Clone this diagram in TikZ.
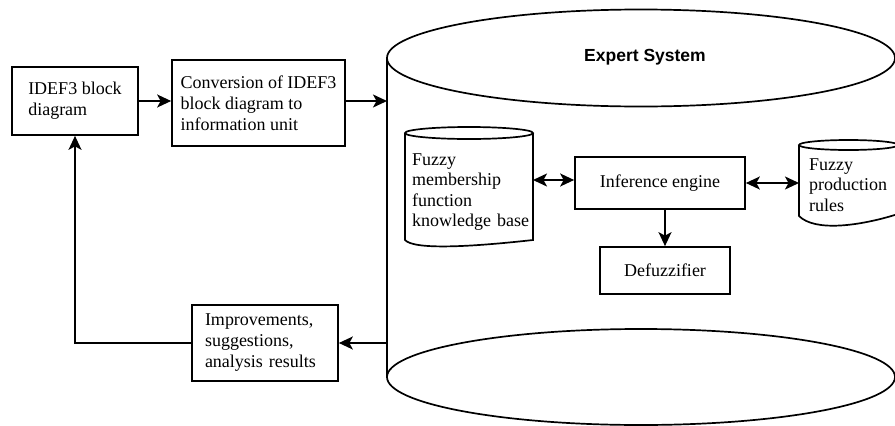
\documentclass[tikz,border=0pt]{standalone}
\usepackage{fontspec}
\setmainfont{Liberation Serif}
\setsansfont{Liberation Sans}
\usetikzlibrary{arrows.meta}
\begin{document}
\begin{tikzpicture}[x=1pt,y=-1pt,
  box/.style={draw, line width=1.7pt, align=left, font=\fontsize{18}{21}\selectfont, inner ysep=0pt},
  txt/.style={align=left, font=\fontsize{18}{20.5}\selectfont, inner sep=0pt},
  tip/.tip={Stealth[length=14pt,width=13pt,inset=3.5pt]},
  arr/.style={line width=1.7pt, -tip},
  darr/.style={line width=1.7pt, tip-tip},
  shp/.style={line width=1.7pt},
]
\useasboundingbox (0,0) rectangle (895,426);

% big cylinder
\coordinate (esL) at (387,58);
\draw[shp] (641,58) ellipse [x radius=254pt, y radius=48.5pt];
\draw[shp] (641,377) ellipse [x radius=254pt, y radius=48pt];
\draw[shp] (esL) -- (387,377);
\node[font=\sffamily\bfseries\fontsize{17.5}{20}\selectfont] (es) at (645,57) {Expert System};

% boxes
\node[box, minimum width=126pt, minimum height=68pt] (idef) at (75,101) {IDEF3 block\\diagram};
\node[box, minimum width=173pt, minimum height=86pt] (conv) at (258.5,103) {Conversion of IDEF3\\block diagram to\\information unit};
\node[box, minimum width=146pt, minimum height=76pt, text width=120pt, inner xsep=13pt] (imp) at (265,343) {Improvements,\\suggestions,\\analysis results};
\node[box, align=center, minimum width=170pt, minimum height=52pt] (inf) at (660,183) {Inference engine};
\node[box, align=center, minimum width=130pt, minimum height=47pt] (defz) at (665,270.5) {Defuzzifier};

% membership cylinder
\draw[shp] (405,133) -- (405,240) .. controls (414,250) and (470,247) .. (533,240) -- (533,133);
\draw[shp] (469,133) ellipse [x radius=64pt, y radius=6pt];
\node[txt, anchor=west, text width=118pt] (mem) at (412,192) {Fuzzy\\membership\\function\\knowledge base};
\coordinate (memR) at (533,180);

% production rules cylinder
\draw[shp] (799,145) -- (799,216) .. controls (815,232) and (860,226) .. (898,214) -- (898,145);
\draw[shp] (848.5,145) ellipse [x radius=49.5pt, y radius=5pt];
\node[txt, anchor=west, text width=84pt] (prod) at (809,185) {Fuzzy\\production\\rules};
\coordinate (prodL) at (799,183);

% connectors
\draw[arr] (idef.east) -- (idef.east -| conv.west);
\draw[arr] (conv.east |- idef.east) -- (esL |- idef.east);
\draw[arr] (esL |- imp.east) -- (imp.east);
\draw[arr] (imp.west) -| (idef.south);
\draw[darr] (memR) -- (memR -| inf.west);
\draw[darr] (inf.east) -- (prodL);
\draw[arr] (inf.south -| defz.north) -- (defz.north);
\end{tikzpicture}
\end{document}
